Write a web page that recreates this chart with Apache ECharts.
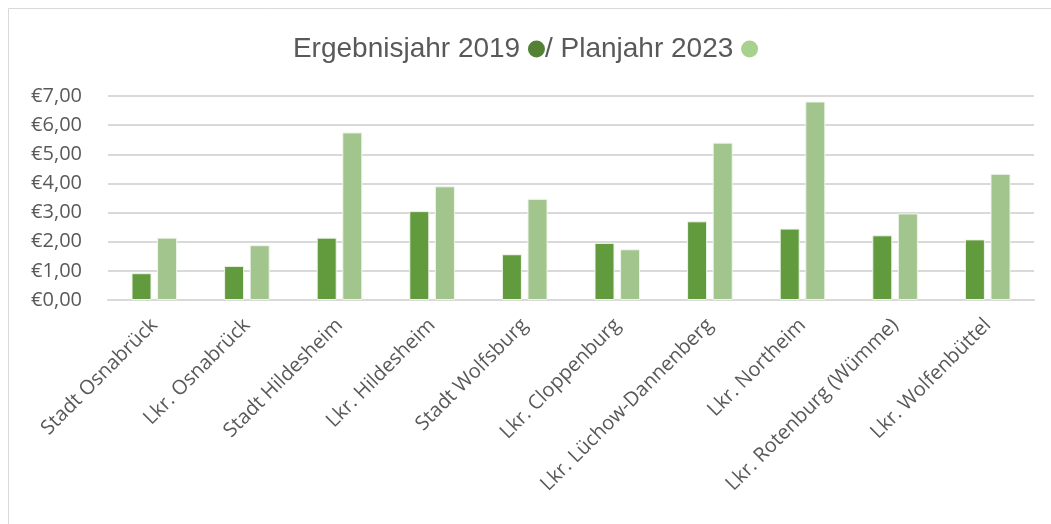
<!DOCTYPE html>
<html>
<head>
<meta charset="utf-8">
<script src="https://cdn.jsdelivr.net/npm/echarts@6/dist/echarts.min.js"></script>
<style>
html, body { margin: 0; padding: 0; background: #fff; }
#chart { width: 1051px; height: 524px; }
</style>
</head>
<body>
<div id="chart"></div>
<script>
// Kategorien (Kommunen)
var categories = ['Stadt Osnabrück', 'Lkr. Osnabrück', 'Stadt Hildesheim', 'Lkr. Hildesheim',
    'Stadt Wolfsburg', 'Lkr. Cloppenburg', 'Lkr. Lüchow-Dannenberg', 'Lkr. Northeim',
    'Lkr. Rotenburg (Wümme)', 'Lkr. Wolfenbüttel'];
// Ergebnisjahr 2019
var values2019 = [0.92, 1.17, 2.14, 3.05, 1.57, 1.96, 2.70, 2.45, 2.22, 2.08];
// Planjahr 2023
var values2023 = [2.14, 1.88, 5.75, 3.90, 3.47, 1.74, 5.40, 6.81, 2.97, 4.33];

var chart = echarts.init(document.getElementById('chart'));
chart.setOption({
    backgroundColor: '#fff',
    animation: false,
    graphic: [{
        type: 'rect',
        shape: { x: 8.5, y: 8.5, width: 1200, height: 700 },
        style: { fill: 'none', stroke: '#d9d9d9', lineWidth: 1 }
    }],
    title: {
        text: 'Ergebnisjahr 2019 {a|}/ Planjahr 2023 {b|}',
        left: 'center',
        top: 30,
        textStyle: {
            fontFamily: 'Liberation Sans',
            fontSize: 28,
            fontWeight: 'normal',
            color: '#595959',
            rich: {
                a: { width: 17, height: 17, borderRadius: 9, backgroundColor: '#548235' },
                b: { width: 17, height: 17, borderRadius: 9, backgroundColor: '#a9d18e' }
            }
        }
    },
    grid: {
        left: 108,
        right: 17,
        top: 96,
        bottom: 224
    },
    xAxis: {
        type: 'category',
        data: categories,
        axisTick: { show: false },
        axisLine: { lineStyle: { color: '#d9d9d9', width: 2 } },
        axisLabel: {
            rotate: 45,
            interval: 0,
            margin: 22,
            fontFamily: 'Open Sans',
            fontSize: 20,
            color: '#595959'
        }
    },
    yAxis: {
        type: 'value',
        min: 0,
        max: 7,
        interval: 1,
        axisLine: { show: false },
        axisTick: { show: false },
        splitLine: { lineStyle: { color: '#d9d9d9', width: 2 } },
        axisLabel: {
            margin: 26,
            fontFamily: 'Open Sans',
            fontSize: 20,
            color: '#595959',
            formatter: function (v) {
                return '€' + v.toFixed(2).replace('.', ',');
            }
        }
    },
    series: [{
        name: 'Ergebnisjahr 2019',
        type: 'bar',
        data: values2019,
        barWidth: 20,
        barGap: '28%',
        itemStyle: { color: '#629a3e', borderColor: '#eef5ea', borderWidth: 1 }
    }, {
        name: 'Planjahr 2023',
        type: 'bar',
        data: values2023,
        barWidth: 20,
        itemStyle: { color: '#a2c48d', borderColor: '#eef5ea', borderWidth: 1 }
    }]
});
</script>
</body>
</html>
